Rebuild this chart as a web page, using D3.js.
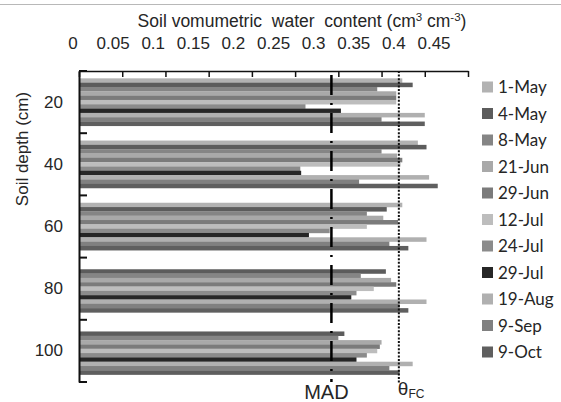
<!DOCTYPE html>
<meta charset="utf-8">
<style>
body { margin: 0; background: #fff; }
text { font-family: "Liberation Sans", Arial, sans-serif; fill: #262626; }
.legend text { font-family: Lato, "Liberation Sans", sans-serif; }
</style>
<script src="https://d3js.org/d3.v7.min.js"></script>
<div id="chart"></div>
<script>
// data
var depths = ["20", "40", "60", "80", "100"];
var dates = ["1-May", "4-May", "8-May", "21-Jun", "29-Jun", "12-Jul", "24-Jul", "29-Jul", "19-Aug", "9-Sep", "9-Oct"];
var greys = ["#b2b2b2", "#5c5c5c", "#858585", "#a9a9a9", "#7b7b7b", "#bdbdbd", "#8b8b8b", "#262626", "#b0b0b0", "#808080", "#5f5f5f"];
// one array per date, values for depths 20..100 (null = no reading)
var may1  = [0.374, 0.392, 0.374, null, null];
var may4  = [0.386, 0.402, 0.356, 0.355, 0.307];
var may8  = [0.345, 0.350, 0.333, 0.326, 0.300];
var jun21 = [0.367, 0.368, 0.352, 0.361, 0.350];
var jun29 = [0.367, 0.374, 0.369, 0.367, 0.348];
var jul12 = [0.367, 0.372, 0.333, 0.341, 0.345];
var jul24 = [0.262, 0.256, 0.290, 0.321, 0.333];
var jul29 = [0.303, 0.257, 0.266, 0.315, 0.321];
var aug19 = [0.400, 0.405, 0.402, 0.402, 0.386];
var sep9  = [0.350, 0.324, 0.359, 0.371, 0.359];
var oct9  = [0.400, 0.415, 0.381, 0.381, 0.371];
var series = [may1, may4, may8, jun21, jun29, jul12, jul24, jul29, aug19, sep9, oct9];
var xTicks = [0, 0.05, 0.1, 0.15, 0.2, 0.25, 0.3, 0.35, 0.4, 0.45];
var mad = 0.292, fieldCap = 0.37;

var W = 561, H = 402;
var svg = d3.select("#chart").append("svg")
    .attr("width", W)
    .attr("height", H);

// thin rule across the top edge
svg.append("line")
    .attr("x1", 0).attr("x2", W)
    .attr("y1", 4.5).attr("y2", 4.5)
    .attr("stroke", "#b8b8b8");

var x = d3.scaleLinear().domain([0, 0.45]).range([79, 468]);
// tick labels in the figure sit a little off the ticks
var xLab = d3.scaleLinear().domain([0, 0.45]).range([73, 434]);

var y0 = d3.scaleBand().domain(depths).range([71, 382]);
var y1 = d3.scaleBand().domain(dates).range([0, y0.bandwidth()]).paddingOuter(1.7);
var color = d3.scaleOrdinal().domain(dates).range(greys);

// bars
var rows = [];
series.forEach(function(vals, i) {
  vals.forEach(function(v, j) {
    if (v != null) rows.push({date: dates[i], depth: depths[j], value: v});
  });
});
svg.append("g")
  .selectAll("rect")
  .data(rows)
  .enter()
  .append("rect")
    .attr("x", x(0))
    .attr("y", function(d) { return y0(d.depth) + y1(d.date); })
    .attr("width", function(d) { return x(d.value) - x(0); })
    .attr("height", y1.bandwidth() + 0.2)
    .attr("fill", function(d) { return color(d.date); });

// top axis, ticks pointing inward
svg.append("g")
    .attr("transform", "translate(0,71)")
    .call(d3.axisTop(x).tickValues(xTicks).tickSize(-6).tickSizeOuter(0).tickFormat(""))
    .call(function(g) { g.select(".domain").attr("stroke", "#111").attr("stroke-width", 1.3); })
    .call(function(g) { g.selectAll(".tick line").attr("stroke", "#111").attr("stroke-width", 1.5); });

svg.append("g")
  .selectAll("text")
  .data(xTicks)
  .enter()
  .append("text")
    .attr("x", function(d) { return xLab(d); })
    .attr("y", 49)
    .attr("text-anchor", "middle")
    .style("font-size", "17px")
    .text(function(d) { return d; });

var title = svg.append("text")
    .attr("x", 302)
    .attr("y", 27)
    .attr("text-anchor", "middle")
    .style("font-size", "17.5px");
title.append("tspan").text("Soil vomumetric\u00a0 water\u00a0 content (cm");
title.append("tspan").attr("dy", -6).style("font-size", "11.5px").text("3");
title.append("tspan").attr("dy", 6).text(" cm");
title.append("tspan").attr("dy", -6).style("font-size", "11.5px").text("-3");
title.append("tspan").attr("dy", 6).text(")");

// left axis: labels in the middle of each band, ticks on band edges
svg.append("g")
    .attr("transform", "translate(79,0)")
    .call(d3.axisLeft(y0).tickSize(0).tickPadding(16))
    .call(function(g) { g.select(".domain").attr("stroke", "#111").attr("stroke-width", 2); })
    .call(function(g) { g.selectAll("text").style("font-size", "17px").attr("fill", "#262626"); });

var edges = depths.map(function(d) { return y0(d); }).concat([y0.range()[1]]);
svg.append("g")
  .selectAll("line")
  .data(edges)
  .enter()
  .append("line")
    .attr("x1", 79).attr("x2", 87)
    .attr("y1", function(d) { return d; })
    .attr("y2", function(d) { return d; })
    .attr("stroke", "#111")
    .attr("stroke-width", 2);

svg.append("text")
    .attr("transform", "translate(28,149) rotate(-90)")
    .attr("text-anchor", "middle")
    .style("font-size", "17px")
    .text("Soil depth (cm)");

// MAD and field capacity lines
svg.append("line")
    .attr("x1", x(mad)).attr("x2", x(mad))
    .attr("y1", 71).attr("y2", 382)
    .attr("stroke", "#000")
    .attr("stroke-width", 2.5)
    .attr("stroke-dasharray", "20,8,2,8")
    .attr("stroke-dashoffset", -4);
svg.append("line")
    .attr("x1", x(fieldCap)).attr("x2", x(fieldCap))
    .attr("y1", 71).attr("y2", 384)
    .attr("stroke", "#111")
    .attr("stroke-width", 2)
    .attr("stroke-dasharray", "2,1.6");

svg.append("text")
    .attr("x", x(mad) - 5)
    .attr("y", 399)
    .attr("text-anchor", "middle")
    .style("font-size", "20px")
    .text("MAD");
var fc = svg.append("text")
    .attr("x", x(fieldCap) - 1)
    .attr("y", 395)
    .style("font-size", "19px");
fc.append("tspan").text("\u03b8");
fc.append("tspan").attr("dy", 3).style("font-size", "12px").text("FC");

// legend
var legend = svg.append("g").attr("class", "legend");
var ly = d3.scalePoint().domain(dates).range([87, 352]);
legend.selectAll("rect")
  .data(dates)
  .enter()
  .append("rect")
    .attr("x", 482)
    .attr("y", function(d) { return ly(d) - 5.5; })
    .attr("width", 11)
    .attr("height", 11)
    .attr("fill", function(d) { return color(d); });
legend.selectAll("text")
  .data(dates)
  .enter()
  .append("text")
    .attr("x", 498)
    .attr("y", function(d) { return ly(d) + 6; })
    .style("font-size", "17px")
    .text(function(d) { return d; });
</script>
